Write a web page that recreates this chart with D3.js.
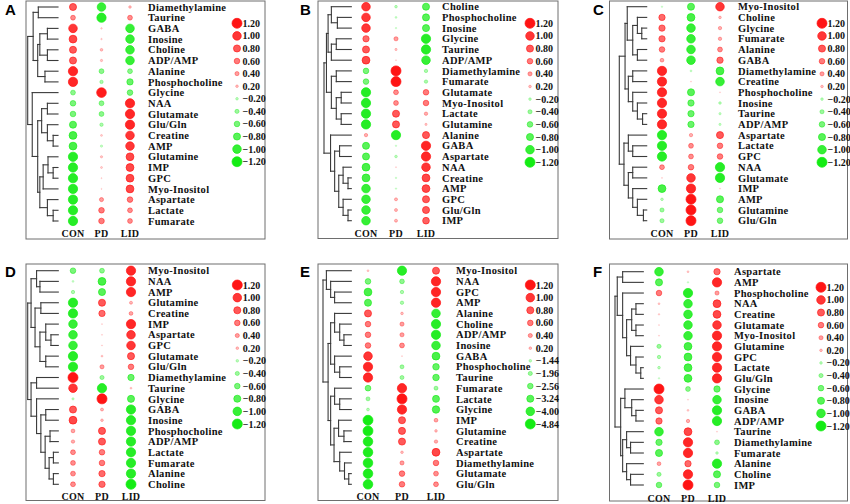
<!DOCTYPE html>
<html>
<head>
<meta charset="utf-8">
<script src="https://cdnjs.cloudflare.com/ajax/libs/d3/7.8.5/d3.min.js"></script>
<style>
  body { margin: 0; background: #fff; }
  svg text { font-family: "Liberation Serif", "Times New Roman", serif; font-weight: bold; }
  svg text.plabel { font-family: "Liberation Sans", Arial, sans-serif; }
</style>
</head>
<body>
<div id="chart"></div>
<script>

// ---- data ----
var columns = ["CON", "PD", "LID"];
var legendStd = [1.20, 1.00, 0.80, 0.60, 0.40, 0.20, -0.20, -0.40, -0.60, -0.80, -1.00, -1.20];
var legendE = [1.20, 1.00, 0.80, 0.60, 0.40, 0.20, -1.44, -1.96, -2.56, -3.24, -4.00, -4.84];

// trees: [height, left, right], leaves are metabolite names
var namesA = ["Diamethylamine","Taurine","GABA","Inosine","Choline","ADP/AMP","Alanine","Phosphocholine","Glycine","NAA","Glutamate","Glu/Gln","Creatine","AMP","Glutamine","IMP","GPC","Myo-Inositol","Aspartate","Lactate","Fumarate"];
var conA = [0.8,0.5,1.0,0.9,0.8,0.8,1.1,1.1,-0.5,-0.6,-0.6,-0.8,-0.9,-0.9,-1.1,-1.1,-1.1,-1.1,-1.1,-1.1,-1.1];
var pdA  = [-1.0,-1.1,0.05,0.05,0.2,0.15,-0.5,-0.3,1.15,-0.5,-0.5,-0.3,0.1,-0.15,0.15,0.1,0,0,0.4,0.6,0.6];
var lidA = [0.2,0.5,-1.0,-1.0,-1.0,-1.0,-0.5,-0.7,-0.6,1.1,1.1,1.1,1.0,1.0,0.9,0.9,0.9,0.9,0.6,0.5,0.5];
var treeA = [1,
  [0.82, [0.65,"Diamethylamine","Taurine"],
         [0.67, [0.60,[0.35,"GABA","Inosine"],[0.35,"Choline","ADP/AMP"]], [0.43,"Alanine","Phosphocholine"]]],
  [0.85, "Glycine",
         [0.67, [0.54,[0.35,"NAA","Glutamate"],[0.35,"Glu/Gln",[0.16,"Creatine","AMP"]]],
                [0.60, [0.49,[0.33,"Glutamine",[0.16,"IMP","GPC"]],"Myo-Inositol"], [0.35,"Aspartate",[0.16,"Lactate","Fumarate"]]]]]];

var namesB = ["Choline","Phosphocholine","Inosine","Glycine","Taurine","ADP/AMP","Diamethylamine","Fumarate","Glutamate","Myo-Inositol","Lactate","Glutamine","Alanine","GABA","Aspartate","NAA","Creatine","AMP","GPC","Glu/Gln","IMP"];
var conB = [1.0,1.0,1.0,0.7,0.8,0.9,-0.6,-0.6,-1.1,-1.1,-1.1,-1.1,0.3,-0.8,-0.8,-0.9,-0.9,-1.0,-1.0,-1.0,-1.0];
var pdB  = [-0.2,-0.1,-0.05,0.4,0.15,0,1.2,1.2,0.5,0.5,0.8,0.8,-1.1,-0.05,-0.2,0,-0.05,-0.05,0.25,0.25,0.25];
var lidB = [-0.8,-0.8,-0.8,-1.1,-1.1,-1.0,-0.3,-0.3,0.6,0.6,0.3,0.15,0.8,1.1,1.1,1.0,0.9,0.9,0.8,0.8,0.75];
var treeB = [1,
  [0.91, [0.85, [0.73,"Choline",[0.51,"Phosphocholine","Inosine"]], [0.73,[0.55,"Glycine","Taurine"],"ADP/AMP"]],
         [0.73, [0.55,"Diamethylamine","Fumarate"], [0.55,[0.37,"Glutamate","Myo-Inositol"],[0.37,"Lactate","Glutamine"]]]],
  [0.76, "Alanine",
         [0.61, [0.43,"GABA","Aspartate"], [0.46,[0.30,"NAA",[0.12,"Creatine","AMP"]],[0.30,"GPC",[0.12,"Glu/Gln","IMP"]]]]]];

var namesC = ["Myo-Inositol","Choline","Glycine","Fumarate","Alanine","GABA","Diamethylamine","Creatine","Phosphocholine","Inosine","Taurine","ADP/AMP","Aspartate","Lactate","GPC","NAA","Glutamate","IMP","AMP","Glutamine","Glu/Gln"];
var conC = [-0.05,0.7,0.7,0.7,0.6,0.35,1.1,1.1,1.1,1.1,1.1,1.1,-1.1,-1.1,-1.1,0.5,0,-0.9,-0.2,-0.4,-0.4];
var pdC  = [-0.8,-0.9,-1.0,-1.0,-1.0,-1.0,-0.1,0,-0.8,-0.7,-0.7,-0.7,0.3,0.5,0.5,0.6,1.0,1.1,1.2,1.2,1.2];
var lidC = [1.0,0.2,0.3,0.3,0.5,0.7,-0.9,-1.0,0,-0.2,-0.15,-0.15,0.8,0.6,0.6,-1.1,-1.1,0,-0.8,-0.6,-0.6];
var treeC = [1,
  [0.79, [0.71,"Myo-Inositol",[0.51,[0.34,"Choline",[0.18,"Glycine","Fumarate"]],[0.34,"Alanine","GABA"]]],
         [0.67, [0.51,"Diamethylamine","Creatine"], [0.51,"Phosphocholine",[0.34,"Inosine",[0.15,"Taurine","ADP/AMP"]]]]],
  [0.83, [0.67,"Aspartate",[0.51,"Lactate","GPC"]],
         [0.67,[0.51,"NAA","Glutamate"],[0.51,"IMP",[0.34,"AMP",[0.12,"Glutamine","Glu/Gln"]]]]]];

var namesD = ["Myo-Inositol","NAA","AMP","Glutamine","Creatine","IMP","Aspartate","GPC","Glutamate","Glu/Gln","Diamethylamine","Taurine","Glycine","GABA","Inosine","Phosphocholine","ADP/AMP","Lactate","Fumarate","Alanine","Choline"];
var conD = [-0.6,-0.1,-0.3,-1.1,-1.1,-1.0,-1.0,-1.0,-1.1,-1.1,1.2,1.0,-0.15,0.8,0.9,0.35,0.3,0.5,0.5,0.5,0.5];
var pdD  = [-0.5,-0.9,-0.8,0.8,0.7,0,0,0,0.1,0.4,-0.4,-1.1,1.2,0.25,0.2,0.8,0.8,0.6,0.6,0.7,0.7];
var lidD = [1.1,1.1,1.1,0.25,0.35,1.1,1.0,1.0,0.8,0.6,-0.7,0.1,-0.8,-1.1,-1.1,-1.1,-1.1,-1.1,-1.1,-1.1,-1.2];
var treeD = [1,
  [0.89, [0.71,"Myo-Inositol",[0.60,"NAA","AMP"]],
         [0.76,[0.57,"Glutamine","Creatine"],[0.60,[0.41,"IMP",[0.24,"Aspartate","GPC"]],[0.41,"Glutamate","Glu/Gln"]]]],
  [0.89, [0.71,"Diamethylamine","Taurine"],
         [0.71,"Glycine",[0.57,[0.41,"GABA","Inosine"],[0.43,[0.27,"Phosphocholine","ADP/AMP"],[0.30,[0.16,"Lactate","Fumarate"],[0.16,"Alanine","Choline"]]]]]]];

var namesE = ["Myo-Inositol","NAA","GPC","AMP","Alanine","Choline","ADP/AMP","Inosine","GABA","Phosphocholine","Taurine","Fumarate","Lactate","Glycine","IMP","Glutamine","Creatine","Aspartate","Diamethylamine","Glutamate","Glu/Gln"];
var conE = [0.1,-2.56,-3.6,-3.24,0.8,0.6,0.6,0.6,1.0,1.1,1.1,-2.6,-1.9,-1.5,-4.8,-4.8,-4.6,-4.6,-4.6,-4.6,-4.6];
var pdE  = [-4.4,-2.2,-1.7,-1.7,0.2,0.4,0.4,0.5,0,-1.9,-1.9,1.1,1.2,1.1,0.8,0.8,0.8,0.2,0.4,0.6,0.6];
var lidE = [0.8,1.1,1.1,1.1,-4.0,-4.4,-4.4,-4.0,-3.6,-3.0,-3.0,-1.9,-3.2,-3.4,0.35,0.2,0.3,0.9,0.6,0.5,0.5];
var treeE = [1,
  [0.88,"Myo-Inositol",[0.73,"NAA",[0.59,"GPC","AMP"]]],
  [0.82, [0.73,[0.59,"Alanine",[0.41,"Choline",[0.26,"ADP/AMP","Inosine"]]],[0.59,"GABA",[0.41,"Phosphocholine","Taurine"]]],
         [0.73,[0.59,"Fumarate",[0.41,"Lactate","Glycine"]],
               [0.61,[0.45,"IMP",[0.26,"Glutamine","Creatine"]],[0.41,"Aspartate",[0.24,"Diamethylamine",[0.09,"Glutamate","Glu/Gln"]]]]]]];

var namesF = ["Aspartate","AMP","Phosphocholine","NAA","Creatine","Glutamate","Myo-Inositol","Glutamine","GPC","Lactate","Glu/Gln","Glycine","Inosine","GABA","ADP/AMP","Taurine","Diamethylamine","Fumarate","Alanine","Choline","IMP"];
var conF = [-1.0,-0.8,0.6,0.1,0.05,0,0,-0.4,-0.3,-0.2,-0.05,1.2,1.0,0.8,0.7,-1.0,-0.7,-0.8,0.35,-0.4,-0.6];
var pdF  = [0.1,-0.05,-1.1,-1.0,-1.0,-1.0,-1.0,-0.9,-0.9,-0.9,-0.9,-0.5,0,0.1,0.3,0.9,1.1,1.1,0.7,1.1,1.2];
var lidF = [0.7,1.1,0.4,0.9,0.9,1.0,1.1,1.1,1.1,1.1,1.1,-0.7,-1.0,-1.1,-1.1,0,-0.5,-0.2,-1.1,-0.8,-0.6];
var treeF = [1,
  [0.92, [0.73,"Aspartate","AMP"],
         [0.73,"Phosphocholine",[0.59,[0.41,[0.26,"NAA","Creatine"],[0.26,"Glutamate","Myo-Inositol"]],[0.45,"Glutamine",[0.26,"GPC",[0.09,"Lactate","Glu/Gln"]]]]]],
  [0.80, [0.65,"Glycine",[0.41,"Inosine",[0.26,"GABA","ADP/AMP"]]],
         [0.73,[0.59,"Taurine",[0.45,"Diamethylamine","Fumarate"]],[0.59,"Alanine",[0.45,"Choline","IMP"]]]]];

// ---- layout ----
var panels = [
  {id:"A", names:namesA, con:conA, pd:pdA, lid:lidA, tree:treeA, legend:legendStd,
   frame:[26,1,265,239], label:[5,15], rows:[7,221], leafX:58, rootX:27.7, cols:[73,130], nameX:148, colY:233.5, legX:237, legY:[23.3,161.7]},
  {id:"B", names:namesB, con:conB, pd:pdB, lid:lidB, tree:treeB, legend:legendStd,
   frame:[318,1,558,238.5], label:[300,15], rows:[6.7,220.7], leafX:351.3, rootX:324, cols:[366,426], nameX:442, colY:233.5, legX:530, legY:[23.3,162.3]},
  {id:"C", names:namesC, con:conC, pd:pdC, lid:lidC, tree:treeC, legend:legendStd,
   frame:[609.5,1,847.5,239], label:[593,15], rows:[6.7,220.7], leafX:646.7, rootX:619.3, cols:[662,720], nameX:738, colY:233.5, legX:822, legY:[23.3,162.3]},
  {id:"D", names:namesD, con:conD, pd:pdD, lid:lidD, tree:treeD, legend:legendStd,
   frame:[26,264,265,500.5], label:[5,277], rows:[270.7,484.3], leafX:58.3, rootX:27.7, cols:[73,131], nameX:148, colY:496.5, legX:237.3, legY:[285,424]},
  {id:"E", names:namesE, con:conE, pd:pdE, lid:lidE, tree:treeE, legend:legendE,
   frame:[318,264,558,500.5], label:[300,277], rows:[270.7,484.3], leafX:351.3, rootX:323, cols:[368,436], nameX:456, colY:496.5, legX:530.3, legY:[285,424]},
  {id:"F", names:namesF, con:conF, pd:pdF, lid:lidF, tree:treeF, legend:legendStd,
   frame:[609.5,264,847.5,501], label:[593,277], rows:[271.7,485], leafX:643.3, rootX:615, cols:[659,717], nameX:734, colY:498, legX:821, legY:[287.3,426]}
];

var RED = "#ff1414", GREEN = "#14ec14";
var radius = d3.scaleLinear().domain([0, 6]).range([0.6, 5.0]);
var alpha = d3.scaleLinear().domain([0, 6]).range([0.12, 1]);
var fmt = d3.format(".2f");

var svg = d3.select("#chart").append("svg")
  .attr("width", 850).attr("height", 504)
  .style("background", "#fff");

// legend values -> 0..6 size step, one scale for each sign
function stepScale(legend, sign) {
  var mags = legend.filter(function(v) { return sign > 0 ? v > 0 : v < 0; })
    .map(Math.abs).sort(d3.ascending);
  return d3.scaleLinear().domain([0].concat(mags)).range(d3.range(mags.length + 1)).clamp(true);
}

function drawPanel(p) {
  var g = svg.append("g").attr("class", "panel-" + p.id);

  g.append("rect")
    .attr("x", p.frame[0]).attr("y", p.frame[1])
    .attr("width", p.frame[2] - p.frame[0]).attr("height", p.frame[3] - p.frame[1])
    .attr("fill", "none").attr("stroke", "#6e6e6e").attr("stroke-width", 1);

  g.append("text").attr("class", "plabel")
    .attr("x", p.label[0]).attr("y", p.label[1])
    .style("font-size", "15px").text(p.id);

  var y = d3.scalePoint().domain(p.names).range(p.rows);
  var x = d3.scalePoint().domain(columns).range(p.cols);
  var pos = stepScale(p.legend, 1), neg = stepScale(p.legend, -1);
  function step(v) { return v >= 0 ? pos(v) : neg(-v); }

  // bubbles
  var cells = [];
  p.names.forEach(function(n, i) {
    [p.con, p.pd, p.lid].forEach(function(arr, j) {
      cells.push({name: n, col: columns[j], v: arr[i]});
    });
  });
  g.selectAll("circle.cell").data(cells).join("circle")
    .attr("class", "cell")
    .attr("cx", function(d) { return x(d.col); })
    .attr("cy", function(d) { return y(d.name); })
    .attr("r", function(d) { return radius(step(d.v)); })
    .attr("fill", function(d) { return d.v >= 0 ? RED : GREEN; })
    .attr("fill-opacity", function(d) { return alpha(step(d.v)); })
    .attr("stroke", function(d) { return d.v >= 0 ? RED : GREEN; })
    .attr("stroke-opacity", function(d) { return Math.min(1, alpha(step(d.v)) * 1.3); })
    .attr("stroke-width", 0.7);

  // metabolite names
  g.selectAll("text.name").data(p.names).join("text")
    .attr("class", "name")
    .attr("x", p.nameX).attr("y", function(d) { return y(d); })
    .attr("dy", "0.35em")
    .style("font-size", "10.5px").style("letter-spacing", "0.3px")
    .attr("fill", "#111").text(function(d) { return d; });

  // column labels
  g.selectAll("text.col").data(columns).join("text")
    .attr("class", "col")
    .attr("x", function(d) { return x(d); }).attr("y", p.colY)
    .attr("dy", "0.35em").attr("text-anchor", "middle")
    .style("font-size", "10px").style("letter-spacing", "0.3px")
    .attr("fill", "#111").text(function(d) { return d; });

  // legend
  var ly = d3.scalePoint().domain(d3.range(p.legend.length)).range(p.legY);
  var lg = g.selectAll("g.leg").data(p.legend).join("g")
    .attr("class", "leg")
    .attr("transform", function(d, i) { return "translate(" + p.legX + "," + ly(i) + ")"; });
  lg.append("circle")
    .attr("r", function(d) { return radius(step(d)); })
    .attr("fill", function(d) { return d >= 0 ? RED : GREEN; })
    .attr("fill-opacity", function(d) { return alpha(step(d)); })
    .attr("stroke", function(d) { return d >= 0 ? RED : GREEN; })
    .attr("stroke-opacity", function(d) { return Math.min(1, alpha(step(d)) * 1.3); })
    .attr("stroke-width", 0.7);
  lg.append("text")
    .attr("x", 5.5).attr("dy", "0.35em")
    .style("font-size", "10px")
    .attr("fill", "#111").text(function(d) { return fmt(d); });

  // dendrogram
  var root = d3.hierarchy(p.tree, function(d) { return Array.isArray(d) ? d.slice(1) : null; });
  var hx = d3.scaleLinear().domain([0, 1]).range([p.leafX, p.rootX]);
  root.eachAfter(function(n) {
    n.h = Array.isArray(n.data) ? n.data[0] : 0;
    n.yy = n.children ? (n.children[0].yy + n.children[n.children.length - 1].yy) / 2 : y(n.data);
  });
  var segs = [];
  root.each(function(n) {
    if (!n.children) return;
    segs.push([hx(n.h), n.children[0].yy, hx(n.h), n.children[n.children.length - 1].yy]);
    n.children.forEach(function(c) { segs.push([hx(n.h), c.yy, hx(c.h), c.yy]); });
  });
  g.selectAll("line.tree").data(segs).join("line")
    .attr("class", "tree")
    .attr("x1", function(d) { return d[0]; }).attr("y1", function(d) { return d[1]; })
    .attr("x2", function(d) { return d[2]; }).attr("y2", function(d) { return d[3]; })
    .attr("stroke", "#3a3a3a").attr("stroke-width", 1.1)
    .attr("stroke-linecap", "square");
}

panels.forEach(drawPanel);

</script>
</body>
</html>
